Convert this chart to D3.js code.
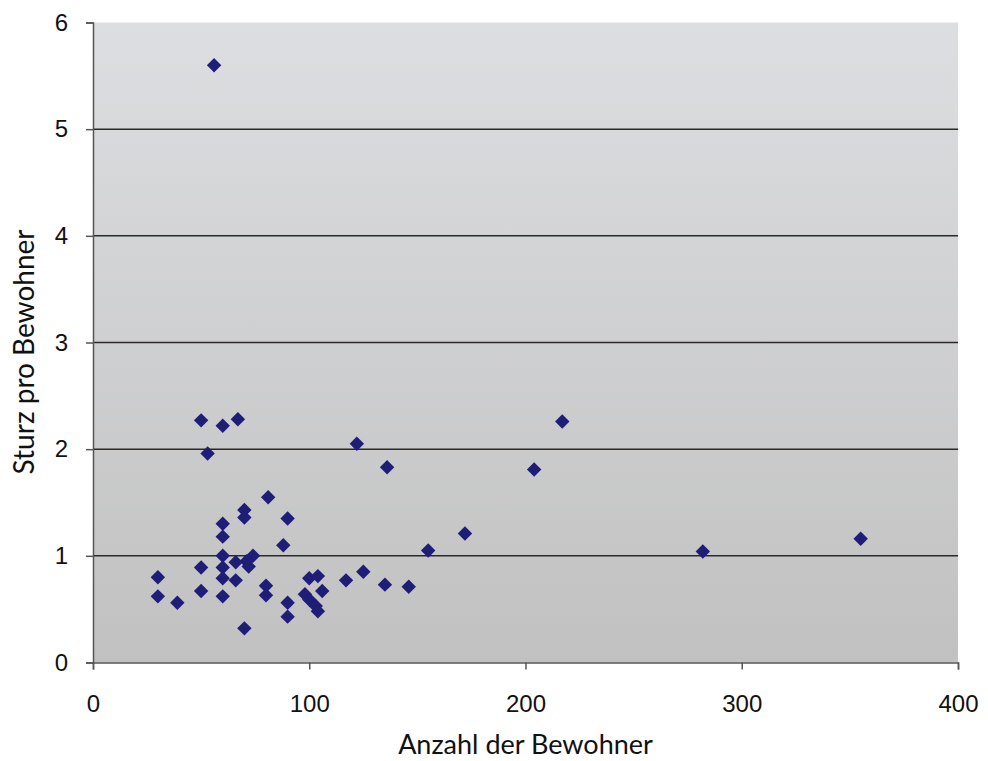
<!DOCTYPE html>
<html>
<head>
<meta charset="utf-8">
<script src="https://cdn.jsdelivr.net/npm/d3@7"></script>
<style>
  html, body { margin: 0; padding: 0; background: #ffffff; }
  svg { display: block; }
</style>
</head>
<body>
<svg id="chart" width="988" height="761"></svg>
<script>
// Residents per care home (x) and falls per resident (y)
const residents = [56, 50, 60, 67, 53, 122, 136, 204, 217, 81, 70, 70, 90, 60, 60, 88, 60, 74, 71, 72,
                   66, 50, 60, 60, 66, 30, 30, 39, 50, 60, 80, 80, 90, 90, 70, 100, 104, 98, 100, 103,
                   104, 106, 117, 125, 135, 146, 155, 172, 282, 355];
const fallsPerResident = [5.60, 2.27, 2.22, 2.28, 1.96, 2.05, 1.83, 1.81, 2.26, 1.55, 1.43, 1.36, 1.35, 1.30, 1.18, 1.10, 1.00, 1.00, 0.95, 0.90,
                          0.94, 0.89, 0.89, 0.79, 0.77, 0.80, 0.62, 0.56, 0.67, 0.62, 0.72, 0.63, 0.56, 0.43, 0.32, 0.79, 0.81, 0.64, 0.59, 0.53,
                          0.48, 0.67, 0.77, 0.85, 0.73, 0.71, 1.05, 1.21, 1.04, 1.16];
const xTicks = [0, 100, 200, 300, 400];
const yTicks = [0, 1, 2, 3, 4, 5, 6];
const xTitle = "Anzahl der Bewohner";
const yTitle = "Sturz pro Bewohner";

const svg = d3.select("#chart");
const plot = { left: 93, right: 958, top: 22.5, bottom: 662.5 };

const x = d3.scaleLinear().domain([0, 400]).range([plot.left, plot.right]);
const y = d3.scaleLinear().domain([0, 6]).range([plot.bottom, plot.top]);

// Plot area background: light grey fading darker towards the bottom
const defs = svg.append("defs");
const grad = defs.append("linearGradient")
  .attr("id", "plotBg").attr("x1", 0).attr("y1", 0).attr("x2", 0).attr("y2", 1);
grad.append("stop").attr("offset", "0%").attr("stop-color", "#dddee1");
grad.append("stop").attr("offset", "100%").attr("stop-color", "#c1c1c1");

svg.append("rect")
  .attr("x", plot.left).attr("y", plot.top)
  .attr("width", plot.right - plot.left).attr("height", plot.bottom - plot.top)
  .attr("fill", "url(#plotBg)");

// Horizontal gridlines
svg.append("g")
  .selectAll("line")
  .data(yTicks.filter(d => d > 0 && d < 6))
  .join("line")
  .attr("x1", plot.left).attr("x2", plot.right)
  .attr("y1", d => y(d)).attr("y2", d => y(d))
  .attr("stroke", "#2a2a2a").attr("stroke-width", 1.5);

// Axes
const axisColor = "#555555";
const yAxis = svg.append("g")
  .attr("transform", `translate(${plot.left},0)`)
  .call(d3.axisLeft(y).tickValues(yTicks).tickSize(7).tickPadding(18).tickFormat(d3.format("d")));
const xAxis = svg.append("g")
  .attr("transform", `translate(0,${plot.bottom})`)
  .call(d3.axisBottom(x).tickValues(xTicks).tickSize(7).tickPadding(25).tickFormat(d3.format("d")));

[xAxis, yAxis].forEach(g => {
  g.select(".domain").attr("stroke", axisColor).attr("stroke-width", 1.5);
  g.selectAll(".tick line").attr("stroke", axisColor).attr("stroke-width", 1.5);
  g.selectAll(".tick text")
    .attr("fill", "#111")
    .style("font-family", "'Liberation Sans', Arial, sans-serif")
    .style("font-size", "24px");
});

// Data points as navy diamonds
svg.append("g")
  .selectAll("path")
  .data(residents.map((r, i) => [r, fallsPerResident[i]]))
  .join("path")
  .attr("d", d3.symbol().type(d3.symbolSquare).size(104))
  .attr("transform", d => `translate(${x(d[0])},${y(d[1])}) rotate(45)`)
  .attr("fill", "#1e1e78");

// Axis titles
svg.append("text")
  .attr("x", (plot.left + plot.right) / 2)
  .attr("y", 754)
  .attr("text-anchor", "middle")
  .attr("fill", "#111")
  .style("font-family", "Lato, 'Open Sans', sans-serif")
  .style("font-size", "27px")
  .text(xTitle);

svg.append("text")
  .attr("transform", `translate(34,352) rotate(-90)`)
  .attr("text-anchor", "middle")
  .attr("fill", "#111")
  .style("font-family", "Lato, 'Open Sans', sans-serif")
  .style("font-size", "28px")
  .text(yTitle);
</script>
</body>
</html>
